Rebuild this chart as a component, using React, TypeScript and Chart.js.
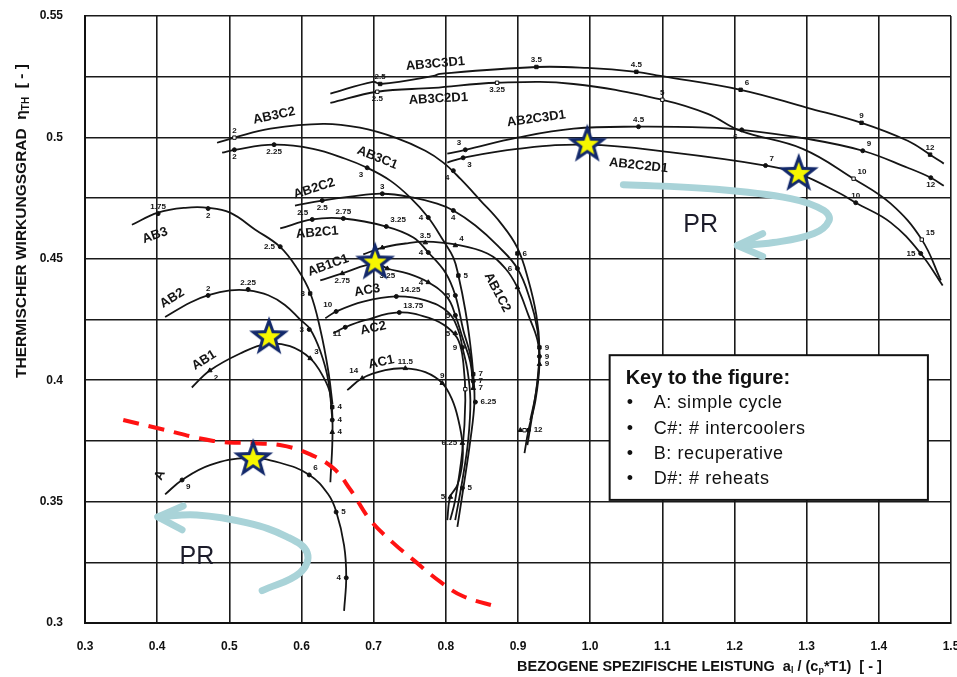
import React, { useEffect, useRef } from 'react';
import { Chart, registerables } from 'chart.js';
Chart.register(...registerables);

type P = [number, number];
type M = [number, number, string, string];

const xMin = 0.3, xMax = 1.5, xStep = 0.1;
const yMin = 0.3, yMax = 0.55, yStep = 0.025;

// ---- curves (x = a1/(cp*T1), y = thermal efficiency) ----
const curveA: P[] = [[0.411,0.353],[0.435,0.359],[0.473,0.365],[0.525,0.368],[0.570,0.366],[0.611,0.361],[0.637,0.353],[0.648,0.346],[0.659,0.332],[0.662,0.319],[0.659,0.305]];
const curveAB1: P[] = [[0.448,0.397],[0.473,0.404],[0.515,0.411],[0.552,0.415],[0.584,0.414],[0.612,0.409],[0.629,0.402],[0.640,0.394],[0.643,0.379],[0.640,0.358]];
const curveAB2: P[] = [[0.411,0.426],[0.446,0.432],[0.471,0.435],[0.501,0.437],[0.526,0.437],[0.554,0.435],[0.577,0.431],[0.598,0.425],[0.612,0.421],[0.626,0.412],[0.637,0.400],[0.643,0.383]];
const curveAB3: P[] = [[0.365,0.464],[0.401,0.469],[0.439,0.471],[0.471,0.471],[0.501,0.469],[0.536,0.462],[0.570,0.455],[0.594,0.446],[0.612,0.436],[0.626,0.421],[0.637,0.404],[0.643,0.390]];
const curveAB3C2: P[] = [[0.483,0.4978],[0.507,0.4999],[0.557,0.5036],[0.630,0.5056],[0.681,0.504],[0.730,0.4999],[0.7716,0.4945],[0.7965,0.4896],[0.820,0.483],[0.848,0.474],[0.8756,0.4649],[0.899,0.4546],[0.9145,0.4411],[0.9255,0.4267],[0.9297,0.4135],[0.927,0.400],[0.9186,0.3835],[0.913,0.3733]];
const curveAB3C1: P[] = [[0.490,0.4937],[0.507,0.4949],[0.562,0.497],[0.616,0.4953],[0.6606,0.4912],[0.691,0.4875],[0.723,0.4822],[0.7508,0.4752],[0.7757,0.467],[0.7965,0.4575],[0.8104,0.4505],[0.8174,0.4431],[0.827,0.4288],[0.834,0.4144],[0.838,0.4025],[0.8396,0.3909],[0.834,0.3753],[0.8243,0.3556],[0.816,0.3396]];
const curveAB2C2: P[] = [[0.591,0.4719],[0.6287,0.474],[0.6676,0.4756],[0.712,0.4768],[0.755,0.4752],[0.788,0.4727],[0.8104,0.4699],[0.841,0.4637],[0.8714,0.4555],[0.8992,0.446],[0.917,0.4329],[0.927,0.4205],[0.9297,0.4098],[0.9255,0.3959],[0.917,0.3835]];
const curveAB2C1: P[] = [[0.5705,0.4625],[0.6149,0.4662],[0.658,0.4666],[0.7175,0.4633],[0.755,0.4588],[0.7757,0.4526],[0.7993,0.4444],[0.8132,0.4349],[0.8243,0.4205],[0.834,0.4103],[0.838,0.3996]];
const curveAB1C2: P[] = [[0.6856,0.4518],[0.712,0.4546],[0.7439,0.4563],[0.7716,0.4571],[0.8132,0.4559],[0.8576,0.4522],[0.8825,0.446],[0.8992,0.4382],[0.9145,0.4267],[0.927,0.4164],[0.9297,0.4066],[0.9242,0.3917],[0.9145,0.3794],[0.909,0.370]];
const curveAB1C1: P[] = [[0.626,0.4411],[0.6565,0.444],[0.702,0.4481],[0.7189,0.446],[0.7466,0.444],[0.7757,0.4403],[0.802,0.4341],[0.8132,0.4267],[0.8243,0.4164],[0.834,0.4074],[0.838,0.3967]];
const curveAC3: P[] = [[0.633,0.4255],[0.648,0.4283],[0.6856,0.4324],[0.7314,0.4345],[0.7716,0.4329],[0.8035,0.4279],[0.8174,0.4205],[0.823,0.4135],[0.830,0.4041],[0.834,0.3917],[0.831,0.3753],[0.823,0.3589],[0.813,0.3424]];
const curveAC2: P[] = [[0.644,0.4193],[0.6606,0.4218],[0.688,0.4247],[0.7355,0.4279],[0.7785,0.4255],[0.802,0.4218],[0.8174,0.4164],[0.8243,0.407],[0.827,0.3917],[0.823,0.3712],[0.813,0.3507],[0.806,0.3424]];
const curveAC1: P[] = [[0.6634,0.3959],[0.6842,0.4008],[0.716,0.4041],[0.7439,0.4049],[0.7716,0.4033],[0.795,0.3988],[0.809,0.3918],[0.8174,0.3836],[0.823,0.3741],[0.823,0.3663],[0.816,0.3568],[0.806,0.3519],[0.802,0.3424]];
const curveAB3C3D1: P[] = [[0.640,0.518],[0.699,0.5229],[0.709,0.522],[0.783,0.5253],[0.792,0.5262],[0.9255,0.529],[0.996,0.5286],[1.064,0.527],[1.0975,0.5253],[1.2085,0.5196],[1.301,0.5122],[1.376,0.506],[1.440,0.4986],[1.471,0.4929],[1.490,0.4892]];
const curveAB3C2D1: P[] = [[0.640,0.5142],[0.705,0.5188],[0.783,0.5204],[0.871,0.5225],[0.977,0.522],[1.100,0.5155],[1.163,0.5097],[1.2085,0.5027],[1.2945,0.4953],[1.365,0.483],[1.4165,0.4727],[1.4595,0.4579],[1.486,0.4411]];
const curveAB2C3D1: P[] = [[0.802,0.4933],[0.827,0.4949],[0.899,0.4999],[0.977,0.5036],[1.067,0.5044],[1.163,0.504],[1.21,0.5031],[1.301,0.4994],[1.3777,0.4945],[1.440,0.4875],[1.472,0.4834],[1.490,0.4801]];
const curveAB2C2D1: P[] = [[0.802,0.4896],[0.824,0.4916],[0.899,0.4953],[0.996,0.497],[1.1155,0.4937],[1.243,0.4884],[1.289,0.4851],[1.347,0.4768],[1.368,0.4731],[1.4165,0.4649],[1.458,0.4522],[1.4885,0.439]];

const curves: P[][] = [curveA, curveAB1, curveAB2, curveAB3, curveAB3C2, curveAB3C1, curveAB2C2, curveAB2C1, curveAB1C2, curveAB1C1, curveAC3, curveAC2, curveAC1, curveAB3C3D1, curveAB3C2D1, curveAB2C3D1, curveAB2C2D1];

// curve names: [text, x, y, angle]
const curveNames: [string, number, number, number][] = [
  ['AB3C3D1', 0.7855, 0.5303, -5], ['AB3C2D1', 0.7896, 0.5159, -3], ['AB3C2', 0.5621, 0.5089, -12],
  ['AB3C1', 0.705, 0.4916, 22], ['AB2C2', 0.6176, 0.4789, -18], ['AB2C1', 0.6218, 0.4608, -5],
  ['AB3', 0.397, 0.4596, -20], ['AB2', 0.4207, 0.4337, -32], ['AB1', 0.465, 0.4082, -32],
  ['AB1C1', 0.637, 0.4473, -20], ['AC3', 0.691, 0.437, -10], ['AC2', 0.6995, 0.4214, -12],
  ['AC1', 0.7106, 0.4074, -12], ['AB1C2', 0.8714, 0.4362, 62], ['A', 0.404, 0.3609, -65],
  ['AB2C3D1', 0.9255, 0.5077, -8], ['AB2C2D1', 1.067, 0.4884, 6],
];

// pressure-ratio markers: [x, y, label, label side]
const markSquare: M[] = [[0.709,0.522,'2.5','a'],[0.9255,0.529,'3.5','a'],[1.064,0.527,'4.5','a'],[1.2085,0.5196,'6','ar'],[1.376,0.506,'9','a'],[1.471,0.4929,'12','a'],[0.8992,0.4522,'6','r'],[0.838,0.4025,'7','r'],[0.6426,0.3889,'4','r'],[0.612,0.4357,'3','l'],[0.9297,0.4135,'9','r'],[0.8174,0.4431,'5','r']];
const markOpen: M[] = [[0.705,0.5188,'2.5','b'],[0.871,0.5225,'3.25','b'],[1.100,0.5155,'5','a'],[1.365,0.483,'10','ar'],[1.4595,0.4579,'15','ar'],[0.507,0.4999,'2','a'],[0.827,0.3963,'',''],[0.909,0.3794,'','']];
const markCircle: M[] = [
  [0.4345,0.3589,'9','br'],[0.6107,0.361,'6','ar'],[0.648,0.3457,'5','r'],[0.662,0.3186,'4','l'],
  [0.4706,0.4349,'2','a'],[0.526,0.4374,'2.25','a'],[0.6107,0.4209,'3','l'],[0.6426,0.3836,'4','r'],
  [0.4013,0.4686,'1.75','a'],[0.4706,0.4707,'2','b'],[0.5705,0.455,'2.5','l'],
  [0.507,0.4949,'2','b'],[0.562,0.497,'2.25','b'],[0.691,0.4875,'3','bl'],[0.7757,0.467,'4','l'],
  [0.6287,0.474,'2.5','b'],[0.712,0.4768,'3','a'],[0.8104,0.4699,'4','b'],[0.8992,0.446,'6','l'],
  [0.6149,0.4662,'2.5','al'],[0.658,0.4666,'2.75','a'],[0.7175,0.4633,'3.25','ar'],[0.7757,0.4526,'4','l'],
  [0.648,0.4283,'10','al'],[0.7314,0.4345,'14.25','ar'],[0.823,0.4135,'9','l'],
  [0.6606,0.4218,'11','bl'],[0.7355,0.4279,'13.75','ar'],
  [0.838,0.3996,'7','r'],[0.841,0.391,'6.25','r'],[0.8229,0.3556,'5','r'],[0.8132,0.4349,'5','l'],[0.8132,0.4267,'5','l'],
  [0.827,0.4949,'3','al'],[1.067,0.5044,'4.5','a'],[1.21,0.5031,'6','bl'],[1.3777,0.4945,'9','ar'],[1.472,0.4834,'12','b'],
  [0.824,0.4916,'3','br'],[1.243,0.4884,'7','ar'],[1.368,0.4731,'10','a'],[1.458,0.4522,'15','l'],[0.8104,0.4863,'4','bl'],
  [0.9297,0.4098,'9','r'],[0.9145,0.3794,'12','r'],
];
const markTriangle: M[] = [
  [0.473,0.404,'2','br'],[0.612,0.409,'3','ar'],[0.6426,0.3786,'4','r'],
  [0.712,0.4546,'',''],[0.7716,0.4567,'3.5','a'],[0.8132,0.4555,'4','ar'],[0.8992,0.4382,'',''],[0.9297,0.4066,'9','r'],[0.9033,0.3794,'',''],
  [0.6565,0.444,'2.75','b'],[0.7189,0.446,'3.25','b'],[0.7757,0.4403,'4','l'],[0.8132,0.4193,'5','l'],
  [0.6842,0.4008,'14','al'],[0.7439,0.4049,'11.5','a'],[0.795,0.3988,'9','a'],[0.8229,0.3741,'6.25','l'],[0.8063,0.3519,'5','l'],
  [0.838,0.3967,'7','r'],
];

// overlays
const stars: P[] = [[0.996,0.497],[1.289,0.485],[0.702,0.4485],[0.555,0.4177],[0.533,0.3675]];
const redBoundary: P[] = [[0.353,0.3836],[0.404,0.380],[0.478,0.375],[0.533,0.374],[0.570,0.3733],[0.608,0.370],[0.644,0.3638],[0.668,0.3548],[0.695,0.3425],[0.727,0.333],[0.755,0.326],[0.792,0.317],[0.824,0.311],[0.871,0.3067]];
const prArrowLow: P[] = [[0.5455,0.3133],[0.598,0.3207],[0.608,0.3289],[0.580,0.3355],[0.525,0.3412],[0.455,0.3445],[0.401,0.3437]];
const prArrowLowHead: P[] = [[0.436,0.3482],[0.401,0.3437],[0.4345,0.3384]];
const prArrowHigh: P[] = [[1.046,0.4805],[1.163,0.4789],[1.278,0.4748],[1.324,0.4699],[1.331,0.4657],[1.310,0.4604],[1.254,0.4567],[1.204,0.4555]];
const prArrowHighHead: P[] = [[1.239,0.4604],[1.204,0.4555],[1.239,0.451]];
const prLabels: P[] = [[0.455,0.3273],[1.153,0.4637]];

const keyBox = { x0: 1.027, y0: 0.4103, x1: 1.468, y1: 0.3507 };
const keyTitle = 'Key to the figure:';
const keyItems = ['A: simple cycle', 'C#: # intercoolers', 'B: recuperative', 'D#: # reheats'];

const FONT = '"Liberation Sans", Arial, Helvetica, sans-serif';
const SHIFT = 5; // canvas is drawn 5px above the page top

function makeStar(): HTMLCanvasElement {
  const c = document.createElement('canvas');
  c.width = 46; c.height = 46;
  const g = c.getContext('2d')!;
  const draw = (r1: number, r2: number, color: string) => {
    g.beginPath();
    for (let i = 0; i < 10; i++) {
      const r = i % 2 === 0 ? r1 : r2;
      const a = -Math.PI / 2 + (i * Math.PI) / 5;
      const px = 23 + r * Math.cos(a), py = 23 + r * Math.sin(a);
      if (i === 0) g.moveTo(px, py); else g.lineTo(px, py);
    }
    g.closePath();
    g.fillStyle = color;
    g.fill();
  };
  draw(21, 8.6, '#13296b');
  draw(12, 4.9, '#f7f700');
  return c;
}

const toXY = (arr: P[]) => arr.map(([x, y]) => ({ x, y }));
const toXYm = (arr: M[]) => arr.map(([x, y]) => ({ x, y }));

const textPlugin = {
  id: 'texts',
  beforeDatasetsDraw(chart: any) {
    const { ctx, scales } = chart;
    const sx = scales.x, sy = scales.y;
    ctx.save();
    ctx.fillStyle = '#141414';
    ctx.font = `bold 13px ${FONT}`;
    ctx.textAlign = 'center';
    ctx.textBaseline = 'middle';
    for (const [t, x, y, ang] of curveNames) {
      ctx.save();
      ctx.translate(sx.getPixelForValue(x), sy.getPixelForValue(y));
      ctx.rotate((ang * Math.PI) / 180);
      ctx.fillText(t, 0, 0);
      ctx.restore();
    }
    ctx.font = `bold 8px ${FONT}`;
    const all = [...markSquare, ...markOpen, ...markCircle, ...markTriangle];
    for (const [x, y, t, pos] of all) {
      if (!t) continue;
      const px = sx.getPixelForValue(x), py = sy.getPixelForValue(y);
      let dx = 0, dy = 0, al: CanvasTextAlign = 'center';
      if (pos.includes('r')) { dx = 4; al = 'left'; }
      if (pos.includes('l')) { dx = -4; al = 'right'; }
      if (pos.includes('a')) dy = -7;
      if (pos.includes('b')) dy = 7;
      if (pos === 'r' || pos === 'l') dx *= 1.3;
      ctx.textAlign = al;
      ctx.fillText(t, px + dx, py + dy);
    }
    ctx.restore();
  },
  afterDatasetsDraw(chart: any) {
    const { ctx, scales } = chart;
    const sx = scales.x, sy = scales.y;
    ctx.save();
    ctx.fillStyle = '#1c1c2a';
    ctx.font = `25px ${FONT}`;
    ctx.textAlign = 'center';
    ctx.textBaseline = 'middle';
    for (const [x, y] of prLabels) ctx.fillText('PR', sx.getPixelForValue(x), sy.getPixelForValue(y));
    // key box
    const l = sx.getPixelForValue(keyBox.x0), t = sy.getPixelForValue(keyBox.y0);
    const r = sx.getPixelForValue(keyBox.x1), b = sy.getPixelForValue(keyBox.y1);
    ctx.fillStyle = '#ffffff';
    ctx.fillRect(l, t, r - l, b - t);
    ctx.strokeStyle = '#111';
    ctx.lineWidth = 2;
    ctx.strokeRect(l, t, r - l, b - t);
    ctx.fillStyle = '#111';
    ctx.textAlign = 'left';
    ctx.font = `bold 20px ${FONT}`;
    ctx.fillText(keyTitle, l + 16, t + 23);
    ctx.font = `18px ${FONT}`;
    (ctx as any).letterSpacing = '0.6px';
    keyItems.forEach((s, i) => {
      const yy = t + 48 + i * 25.4;
      ctx.fillText('\u2022', l + 17, yy);
      ctx.fillText(s, l + 44, yy);
    });
    (ctx as any).letterSpacing = '0px';
    ctx.restore();
  },
  afterDraw(chart: any) {
    const { ctx } = chart;
    ctx.save();
    ctx.fillStyle = '#111';
    ctx.textBaseline = 'middle';
    ctx.textAlign = 'left';
    const seq = (parts: [string, boolean][], x0: number, y0: number, size: number) => {
      let x = x0;
      for (const [s, sub] of parts) {
        ctx.font = sub ? `bold ${Math.round(size * 0.65)}px ${FONT}` : `bold ${size}px ${FONT}`;
        ctx.fillText(s, x, sub ? y0 + 4 : y0);
        x += ctx.measureText(s).width;
      }
    };
    seq([['BEZOGENE SPEZIFISCHE LEISTUNG  a', false], ['l', true], [' / (c', false], ['p', true], ['*T1)  [ - ]', false]], 517, 667 + SHIFT, 14.5);
    ctx.translate(22, 378 + SHIFT);
    ctx.rotate(-Math.PI / 2);
    seq([['THERMISCHER WIRKUNGSGRAD  \u03b7', false], ['TH', true], ['  [ - ]', false]], 0, 0, 15.5);
    ctx.restore();
  },
};

export default function App() {
  const ref = useRef<HTMLCanvasElement>(null);
  useEffect(() => {
    if (!ref.current) return;
    const starImg = makeStar();
    const lineDs = (d: P[], o: any = {}) => ({
      data: toXY(d), showLine: true, borderColor: '#151515', borderWidth: 1.8,
      pointRadius: 0, tension: 0.4, fill: false, order: 5, ...o,
    });
    const markDs = (d: M[], style: string, bg: string, r: number) => ({
      data: toXYm(d), showLine: false, pointStyle: style, pointRadius: r,
      pointBackgroundColor: bg, pointBorderColor: '#111', pointBorderWidth: 1, order: 4,
    });
    const arrowCol = '#a9d3d8';
    const chart = new Chart(ref.current, {
      type: 'scatter',
      data: {
        datasets: [
          { data: toXY(stars), showLine: false, pointStyle: starImg as any, pointRadius: 20, order: 0 },
          lineDs(prArrowLow, { borderColor: arrowCol, borderWidth: 7, borderCapStyle: 'round', order: 1 }),
          lineDs(prArrowLowHead, { borderColor: arrowCol, borderWidth: 7, borderCapStyle: 'round', borderJoinStyle: 'round', tension: 0, order: 1 }),
          lineDs(prArrowHigh, { borderColor: arrowCol, borderWidth: 7, borderCapStyle: 'round', order: 1 }),
          lineDs(prArrowHighHead, { borderColor: arrowCol, borderWidth: 7, borderCapStyle: 'round', borderJoinStyle: 'round', tension: 0, order: 1 }),
          lineDs(redBoundary, { borderColor: '#ff1212', borderWidth: 4, borderDash: [16, 10], order: 2 }),
          markDs(markSquare, 'rect', '#111', 2.4),
          markDs(markOpen, 'rect', '#fff', 2.4),
          markDs(markCircle, 'circle', '#111', 2),
          markDs(markTriangle, 'triangle', '#111', 2.6),
          ...curves.map((c) => lineDs(c)),
        ],
      },
      options: {
        animation: false,
        responsive: false,
        events: [],
        layout: { padding: { top: 5, right: 6, left: 0, bottom: 0 } },
        plugins: { legend: { display: false }, tooltip: { enabled: false } },
        scales: {
          x: {
            type: 'linear', min: xMin, max: xMax,
            afterFit: (s: any) => { s.height = 54; s.paddingLeft = 0; s.paddingRight = 0; },
            ticks: {
              stepSize: xStep, padding: 16, color: '#111',
              font: { family: FONT, size: 12, weight: 'bold' },
              callback: (v: any) => (Math.round(Number(v) * 10) / 10).toFixed(1),
            },
            grid: { color: '#1a1a1a', lineWidth: 1.6, drawTicks: false },
            border: { color: '#111', width: 2 },
          },
          y: {
            type: 'linear', min: yMin, max: yMax,
            afterFit: (s: any) => { s.width = 85; s.paddingTop = 0; s.paddingBottom = 0; },
            ticks: {
              stepSize: yStep, padding: 22, color: '#111',
              font: { family: FONT, size: 12, weight: 'bold' },
              callback: (v: any) => {
                const r = Math.round(Number(v) * 1000);
                return r % 50 === 0 ? String(r / 1000) : '';
              },
            },
            grid: { color: '#1a1a1a', lineWidth: 1.6, drawTicks: false },
            border: { color: '#111', width: 2 },
          },
        },
      } as any,
      plugins: [textPlugin],
    });
    return () => chart.destroy();
  }, []);
  return (
    <div style={{ position: 'fixed', left: 0, top: 0, width: 957, height: 677, overflow: 'hidden', background: '#fff' }}>
      <canvas ref={ref} width={972} height={677 + SHIFT} style={{ display: 'block', marginTop: -SHIFT }} />
    </div>
  );
}
